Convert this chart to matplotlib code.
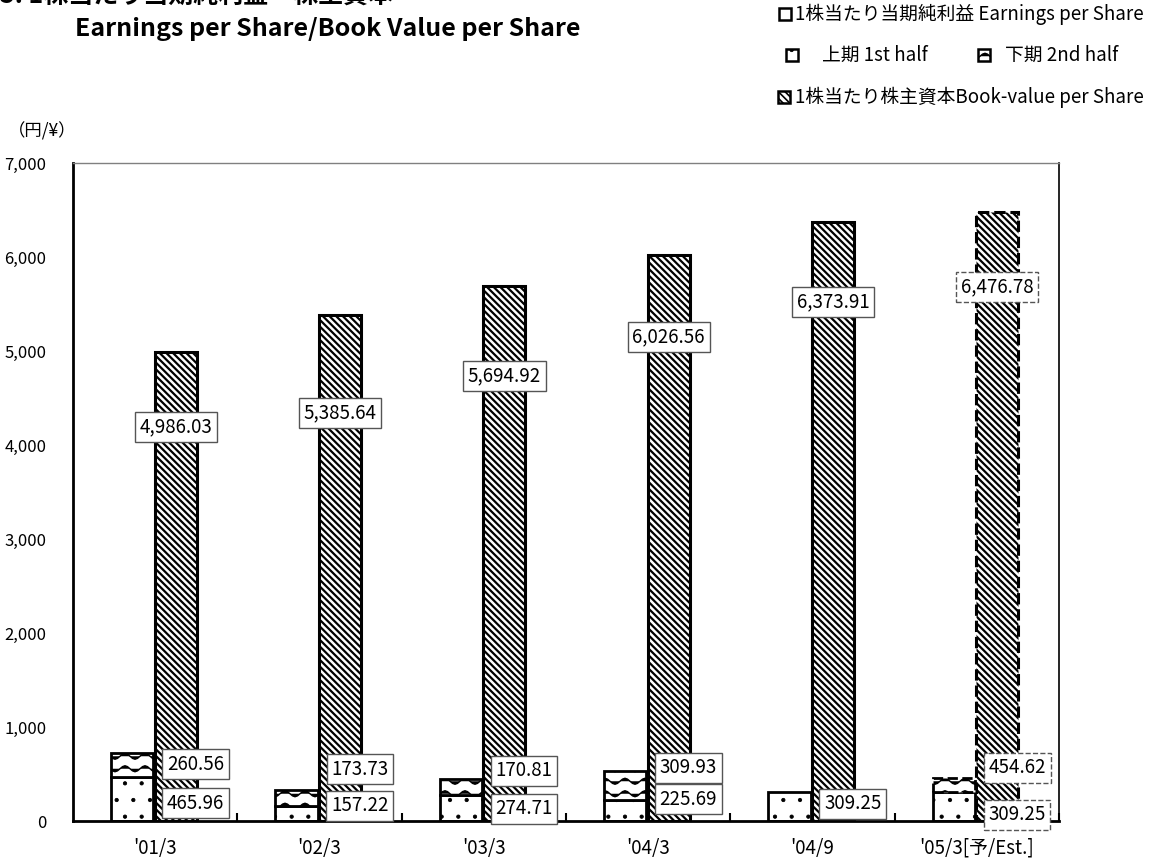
import warnings
import numpy as np
import matplotlib
matplotlib.use("Agg")
import matplotlib.pyplot as plt
import matplotlib.hatch as mhatch
from matplotlib.path import Path
from matplotlib.patches import Rectangle
from matplotlib.ticker import FuncFormatter

warnings.filterwarnings("ignore")

# --- datos ---
periods = ["'01/3", "'02/3", "'03/3", "'04/3", "'04/9", "'05/3[予/Est.]"]
eps_1st = [465.96, 157.22, 274.71, 225.69, 309.25, 309.25]
eps_2nd = [260.56, 173.73, 170.81, 309.93, None, None]
eps_full_year_est = 454.62          # '05/3 forecast (annual)
book_value = [4986.03, 5385.64, 5694.92, 6026.56, 6373.91, 6476.78]
est_index = 5

# --- posiciones de las etiquetas (layout) ---
book_label_y = [4191, 4340, 4734, 5149, 5521, 5681]
eps_upper_label_y = [606, 553, 532, 564, None, 564]
eps_lower_label_y = [191, 160, 128, 234, 181, 64]


# --- patrón ondulado para el 2º semestre ---
class WaveHatch(mhatch.HatchPatternBase):
    def __init__(self, hatch, density):
        self.num_lines = hatch.count('~') * 8
        self.npts = 41
        self.num_vertices = self.num_lines * self.npts

    def set_vertices_and_codes(self, vertices, codes):
        t = np.linspace(0.0, 1.0, self.npts)
        for i in range(self.num_lines):
            y = (i + 0.5) / self.num_lines + 0.03 * np.sin(2 * np.pi * 5 * t)
            sl = slice(i * self.npts, (i + 1) * self.npts)
            vertices[sl] = np.column_stack([t, y])
            codes[sl] = Path.LINETO
            codes[i * self.npts] = Path.MOVETO


mhatch._hatch_types.append(WaveHatch)

FONT = ['Noto Sans CJK JP', 'DejaVu Sans']
plt.rcParams['font.family'] = FONT

HATCH_BOOK = '\\' * 5
HATCH_1ST = '.'
HATCH_2ND = '~'


def set_hlw(patches, lw):
    for p in patches:
        if hasattr(p, 'set_hatch_linewidth'):
            p.set_hatch_linewidth(lw)
        else:
            p._hatch_linewidth = lw


fig = plt.figure(figsize=(11.74, 8.61), dpi=100)
ax = fig.add_axes([73 / 1174, 1 - 821 / 861, (1059 - 73) / 1174, (821 - 163) / 861])

x = np.arange(len(periods))
W = 0.256
OFF_EPS = -0.14
OFF_BOOK = 0.125
OFF_LABEL = 0.245

for i in range(len(periods)):
    est = (i == est_index)
    # valor contable
    b = ax.bar(x[i] + OFF_BOOK, book_value[i], W, color='white', edgecolor='black',
               hatch=HATCH_BOOK, linewidth=2.2, linestyle='--' if est else '-', zorder=2)
    set_hlw(b.patches, 1.6)
    # 1er semestre
    b = ax.bar(x[i] + OFF_EPS, eps_1st[i], W, color='white', edgecolor='black',
               hatch=HATCH_1ST, linewidth=2.0, zorder=2)
    set_hlw(b.patches, 0.6)
    # 2º semestre
    if eps_2nd[i] is not None:
        top = eps_2nd[i]
    elif est:
        top = eps_full_year_est - eps_1st[i]
    else:
        top = None
    if top is not None:
        b = ax.bar(x[i] + OFF_EPS, top, W, bottom=eps_1st[i], color='white',
                   edgecolor='black', hatch=HATCH_2ND, linewidth=2.0,
                   linestyle='--' if est else '-', zorder=2)
        set_hlw(b.patches, 1.0)


# --- etiquetas ---
def box(est):
    return dict(boxstyle='square,pad=0.25', fc='white',
                ec='#555555', lw=1.0, ls='--' if est else '-')


for i in range(len(periods)):
    est = (i == est_index)
    ax.text(x[i] + OFF_BOOK, book_label_y[i], f"{book_value[i]:,.2f}",
            ha='center', va='center', fontsize=13.5, bbox=box(est), zorder=4)
    upper = eps_2nd[i] if eps_2nd[i] is not None else (eps_full_year_est if est else None)
    if upper is not None:
        ax.text(x[i] + OFF_LABEL, eps_upper_label_y[i], f"{upper:,.2f}",
                ha='center', va='center', fontsize=13.5, bbox=box(est), zorder=4)
    ax.text(x[i] + OFF_LABEL, eps_lower_label_y[i], f"{eps_1st[i]:,.2f}",
            ha='center', va='center', fontsize=13.5, bbox=box(est), zorder=4)

# --- ejes ---
ax.set_xlim(-0.5, len(periods) - 0.5)
ax.set_ylim(0, 7000)
ax.set_yticks(np.arange(0, 7001, 1000))
ax.yaxis.set_major_formatter(FuncFormatter(lambda v, p: f"{v:,.0f}"))
ax.set_xticks(x)
ax.set_xticklabels(periods)
ax.set_xticks(np.arange(0.5, len(periods), 1.0), minor=True)
ax.tick_params(axis='x', which='major', length=0, labelsize=13.5, pad=12)
ax.tick_params(axis='x', which='minor', direction='in', length=6, width=1.5)
ax.tick_params(axis='y', which='major', direction='out', length=0, labelsize=12, pad=19)
ax.spines['left'].set_linewidth(2.0)
ax.spines['bottom'].set_linewidth(2.0)
ax.spines['top'].set_linewidth(1.0)
ax.spines['top'].set_color('#808080')
ax.spines['right'].set_linewidth(1.2)

fig.text(8 / 1174, 1 - 131 / 861, "（円/¥）", fontsize=12.5, ha='left', va='center')

# --- títulos ---
fig.text(0.0, 1 - 9 / 861, "5. 1株当たり当期純利益・株主資本", fontsize=18,
         fontweight='bold', ha='left', va='bottom')
fig.text(75 / 1174, 1 - 29 / 861, "Earnings per Share/Book Value per Share",
         fontsize=18, fontweight='bold', ha='left', va='center')


# --- leyenda ---
def legend_square(px, py, hatch, hlw):
    r = Rectangle((px / 1174, 1 - (py + 6) / 861), 12 / 1174, 12 / 861,
                  transform=fig.transFigure, fc='white', ec='black',
                  lw=1.8, hatch=hatch)
    set_hlw([r], hlw)
    fig.patches.append(r)


LEG_FS = 13.5
legend_square(779, 14, None, 1.0)
fig.text(795 / 1174, 1 - 14 / 861, "1株当たり当期純利益 Earnings per Share",
         fontsize=LEG_FS, ha='left', va='center')
legend_square(786, 55, HATCH_1ST, 0.6)
fig.text(822 / 1174, 1 - 55 / 861, "上期 1st half", fontsize=LEG_FS, ha='left', va='center')
legend_square(978, 55, HATCH_2ND, 1.0)
fig.text(1005 / 1174, 1 - 55 / 861, "下期 2nd half", fontsize=LEG_FS, ha='left', va='center')
legend_square(778, 97, HATCH_BOOK, 1.2)
fig.text(795 / 1174, 1 - 97 / 861, "1株当たり株主資本Book-value per Share",
         fontsize=LEG_FS, ha='left', va='center')

fig.savefig("out.png", dpi=100)
